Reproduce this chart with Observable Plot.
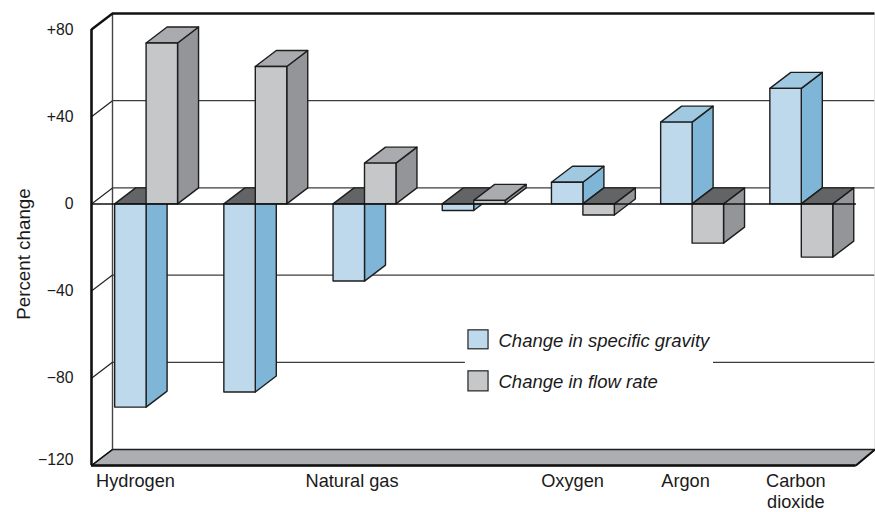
<!DOCTYPE html>
<html>
<head>
<meta charset="utf-8">
<script src="https://cdn.jsdelivr.net/npm/d3@7"></script>
<script src="https://cdn.jsdelivr.net/npm/@observablehq/plot@0.6"></script>
<style>html,body{margin:0;padding:0;background:#fff;overflow:hidden}svg{display:block}</style>
</head>
<body>
<div id="chart"></div>
<script>
const gases = ["Hydrogen", "", "Natural gas", "", "Oxygen", "Argon", "Carbon dioxide"];
const specificGravity = [-93.2, -86.3, -35.4, -3, 9.9, 37.5, 53];
const flowRate = [73.8, 63, 18.7, 1.6, -5.1, -18, -24.4];
const yTicks = [80, 40, 0, -40, -80, -120];
const yTickLabels = ["+80", "+40", "0", "\u221240", "\u221280", "\u2212120"];
const legendLabels = ["Change in specific gravity", "Change in flow rate"];

const barW = 0.288, depthX = 0.1923, depthY = 7.34;
const xMin = -0.5, xMax = 6.5, xBack = 6.675;
const blue = {front: "#bed9ec", side: "#7fb5d6", top: "#a0c8e0"};
const gray = {front: "#c6c7c9", side: "#939598", top: "#aaabae"};
const darkTop = "#636466";
const edge = "#1e1e1e";
const ink = "#1a1a1a";
const font = "Liberation Sans, Arial, sans-serif";

function poly(pts, fill) {
  return Plot.line(pts.map(([x, y]) => ({x, y})), {
    x: "x", y: "y", fill, stroke: edge, strokeWidth: 1.4, curve: "linear-closed"
  });
}
function bar(x0, v, c) {
  const x1 = x0 + barW, dx = depthX, dy = depthY, t = Math.max(v, 0), b = Math.min(v, 0);
  return [
    poly([[x1, t], [x1 + dx, t + dy], [x1 + dx, b + dy], [x1, b]], c.side),
    poly([[x0, t], [x1, t], [x1 + dx, t + dy], [x0 + dx, t + dy]], v < 0 ? darkTop : c.top),
    poly([[x0, t], [x1, t], [x1, b], [x0, b]], c.front)
  ];
}
const bars = gases.flatMap((_, i) => [
  ...bar(i - barW, specificGravity[i], blue),
  ...bar(i, flowRate[i], gray)
]);

const chart = Plot.plot({
  width: 875, height: 512,
  marginLeft: 91, marginRight: 19.6, marginTop: 29, marginBottom: 47,
  style: {fontFamily: font, background: "#fff", overflow: "visible"},
  x: {domain: [xMin, xMax], axis: null},
  y: {domain: [-120, 80], axis: null},
  marks: [
    // floor
    poly([[xMin, -120], [xMax, -120], [xBack, -120 + depthY], [xMin + depthX, -120 + depthY]], "#adaeb1"),
    // back wall and side wall
    Plot.ruleY(yTicks.slice(1, -1), {y: d => d + depthY, x1: xMin + depthX, x2: xBack, stroke: "#3c3c3c", strokeWidth: 1.2}),
    Plot.ruleX([xMin + depthX], {y1: -120 + depthY, y2: 80 + depthY, stroke: "#444", strokeWidth: 1.4}),
    Plot.ruleX([xBack], {y1: -120 + depthY, y2: 80 + depthY, stroke: "#cfcfcf", strokeWidth: 1}),
    Plot.link(yTicks.slice(1, -1), {x1: xMin, y1: d => d, x2: xMin + depthX, y2: d => d + depthY, stroke: "#222", strokeWidth: 1.2}),
    // legend mask
    Plot.rect([0], {x1: 2.924, x2: 5.196, y1: -55.7, y2: -90, fill: "#fff"}),
    ...bars,
    // zero line
    Plot.ruleY([0], {x1: xMin, x2: xMax + 0.005, stroke: "#111", strokeWidth: 1.5}),
    // frame
    Plot.ruleX([xMin], {y1: -120, y2: 80, stroke: "#111", strokeWidth: 2.6}),
    Plot.ruleY([-120], {x1: xMin, x2: xMax, stroke: "#111", strokeWidth: 2.6}),
    Plot.ruleY([80 + depthY], {x1: xMin + depthX, x2: xBack, stroke: "#111", strokeWidth: 2.4}),
    Plot.link([0], {x1: xMin, y1: 80, x2: xMin + depthX, y2: 80 + depthY, stroke: "#111", strokeWidth: 2.4}),
    Plot.link([0], {x1: xMin, y1: -120, x2: xMin + depthX, y2: -120 + depthY, stroke: "#111", strokeWidth: 1.2}),
    Plot.link([0], {x1: xMax, y1: -120, x2: xBack, y2: -120 + depthY, stroke: "#111", strokeWidth: 2}),
    // y axis
    Plot.axisY(yTicks.slice(0, -1), {
      anchor: "left", tickSize: 0, tickPadding: 18, fontSize: 15.8, color: ink,
      tickFormat: d => yTickLabels[yTicks.indexOf(d)], label: null
    }),
    Plot.text([yTickLabels[5]], {x: xMin, y: -117.3, dx: -18, textAnchor: "end", fontSize: 15.8, fill: ink}),
    Plot.text(["Percent change"], {x: xMin, y: -23, dx: -68, rotate: -90, fontSize: 18.8, fill: ink}),
    // category labels
    Plot.text(gases, {
      filter: d => d,
      x: (d, i) => i + [-0.097, 0, -0.114, 0, -0.095, -0.06, -0.05][i],
      y: -120, dy: 6, fontSize: 18.2, lineHeight: 1.16, fill: ink,
      lineAnchor: "top",
      text: d => d.replace(" ", "\n").replace("Natural\ngas", "Natural gas")
    }),
    // legend
    Plot.rect(legendLabels, {x1: 2.952, x2: 3.136, y1: (d, i) => [-58, -76.8][i], y2: (d, i) => [-66.7, -86][i],
      fill: (d, i) => [blue.front, gray.front][i], stroke: "#222", strokeWidth: 1.2}),
    Plot.text(legendLabels, {x: 3.227, y: (d, i) => [-63.1, -81.9][i], textAnchor: "start", fontSize: 18.5, fontStyle: "italic", fill: ink})
  ]
});
document.getElementById("chart").append(chart);
</script>
</body>
</html>
